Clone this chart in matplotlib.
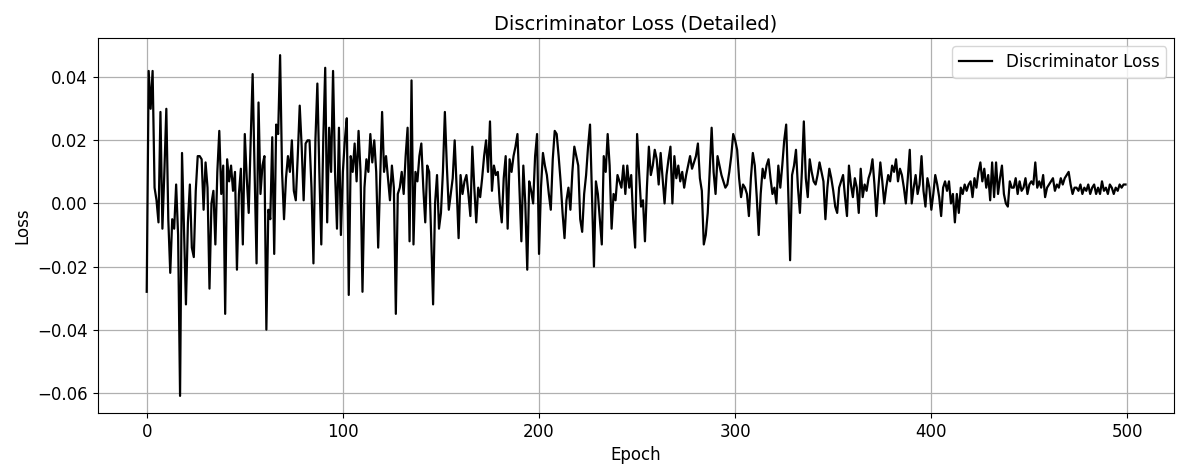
import numpy as np
import matplotlib
matplotlib.use('Agg')
import matplotlib.pyplot as plt

# discriminator loss per epoch, in units of 0.001
loss_000_049 = [-28, 42, 30, 42, 5, 1, -6, 29, -8, 10,
                30, -5, -22, -5, -8, 6, -10, -61, 16, -8,
                -32, -6, 6, -14, -17, 4, 15, 15, 14, -2,
                13, 5, -27, 0, 4, -13, 10, 23, 3, 12,
                -35, 14, 7, 12, 4, 10, -21, 3, 11, -13]
loss_050_099 = [22, 8, -3, 20, 41, 10, -19, 32, 3, 12,
                15, -40, -2, -5, 21, -16, 25, 22, 47, 10,
                -5, 8, 15, 10, 20, 4, 1, 15, 31, 18,
                1, 19, 20, 20, 5, -19, 20, 38, 10, -13,
                20, 43, -6, 24, 10, 42, 10, -8, 24, -10]
loss_100_149 = [10, 20, 27, -29, 15, 10, 19, 7, 23, 10,
                -28, 5, 14, 10, 22, 13, 20, 10, -14, 8,
                29, 10, 15, 8, 1, 12, 5, -35, 3, 5,
                10, 3, 15, 24, -12, 39, -13, 10, 7, 15,
                19, 5, -6, 12, 10, -10, -32, 0, 9, -8]
loss_150_199 = [-3, 10, 29, 12, -2, 3, 8, 20, 5, -11,
                9, 3, 7, 9, 3, -4, 18, 5, -6, 5,
                2, 8, 15, 20, 10, 26, 4, 12, 9, 10,
                0, -6, 8, 15, -8, 14, 10, 15, 18, 22,
                5, -12, 12, 0, -21, 7, 4, 0, 15, 22]
loss_200_249 = [-16, 5, 16, 12, 9, 3, -2, 14, 23, 22,
                15, 7, -3, -11, 1, 5, -2, 10, 18, 15,
                12, -5, -9, 3, 9, 18, 25, 2, -20, 7,
                3, -5, -13, 15, 10, 22, 12, -8, 3, 1,
                9, 7, 5, 12, 3, 12, 5, 9, -5, -14]
loss_250_299 = [22, 10, -1, 1, -12, 5, 18, 9, 12, 17,
                14, 6, 16, 8, 0, 9, 14, 18, 0, 15,
                8, 12, 7, 10, 5, 9, 12, 15, 11, 13,
                15, 19, 8, 4, -13, -10, -3, 10, 24, 10,
                3, 15, 12, 9, 7, 5, 6, 10, 15, 22]
loss_300_349 = [20, 17, 8, 2, 6, 5, 3, -4, 8, 16,
                12, 2, -10, 3, 11, 8, 12, 14, 8, 3,
                5, 0, 12, 5, 12, 20, 25, 5, -18, 9,
                12, 17, 5, -3, 10, 26, 8, 2, 14, 10,
                7, 6, 9, 13, 10, 7, -5, 5, 11, 8]
loss_350_399 = [4, -1, -3, 5, 7, 9, 2, -4, 12, 6,
                2, 8, 5, -3, 11, 2, 6, 4, 8, 10,
                14, 6, -4, 5, 13, 7, 0, 5, 9, 7,
                12, 10, 14, 7, 11, 9, 5, 0, 8, 17,
                0, 5, 9, 3, 6, 15, 4, -1, 8, 5]
loss_400_449 = [-2, 3, 9, 6, 2, -4, 5, 7, 4, 7,
                0, 3, -6, 3, -3, 5, 3, 6, 4, 6,
                7, 2, 8, 5, 10, 13, 7, 11, 5, 9,
                1, 13, 2, 13, 3, 8, 12, 3, 0, -1,
                7, 5, 5, 8, 3, 7, 4, 5, 8, 3]
loss_450_499 = [6, 7, 6, 13, 5, 7, 5, 9, 2, 5,
                6, 7, 8, 4, 6, 5, 8, 6, 8, 9,
                10, 6, 3, 5, 5, 4, 6, 3, 5, 4,
                6, 3, 5, 6, 3, 5, 3, 7, 4, 5,
                3, 6, 5, 3, 5, 4, 6, 5, 6, 6]

loss = np.array(loss_000_049 + loss_050_099 + loss_100_149 + loss_150_199 +
                loss_200_249 + loss_250_299 + loss_300_349 + loss_350_399 +
                loss_400_449 + loss_450_499) / 1000.0
epochs = np.arange(len(loss))

plt.rcParams['font.family'] = 'DejaVu Sans'

fig, ax = plt.subplots(figsize=(11.78, 4.65), dpi=100)
ax.plot(epochs, loss, color='black', linewidth=1.6, label='Discriminator Loss')

ax.set_title('Discriminator Loss (Detailed)', fontsize=14)
ax.set_xlabel('Epoch', fontsize=12)
ax.set_ylabel('Loss', fontsize=12)
ax.tick_params(labelsize=12)
ax.grid(True, color='#b0b0b0', linewidth=0.9)
ax.legend(loc='upper right', fontsize=12)

fig.subplots_adjust(left=0.083, right=0.997, top=0.918, bottom=0.112)
fig.savefig('out.png', dpi=100)
